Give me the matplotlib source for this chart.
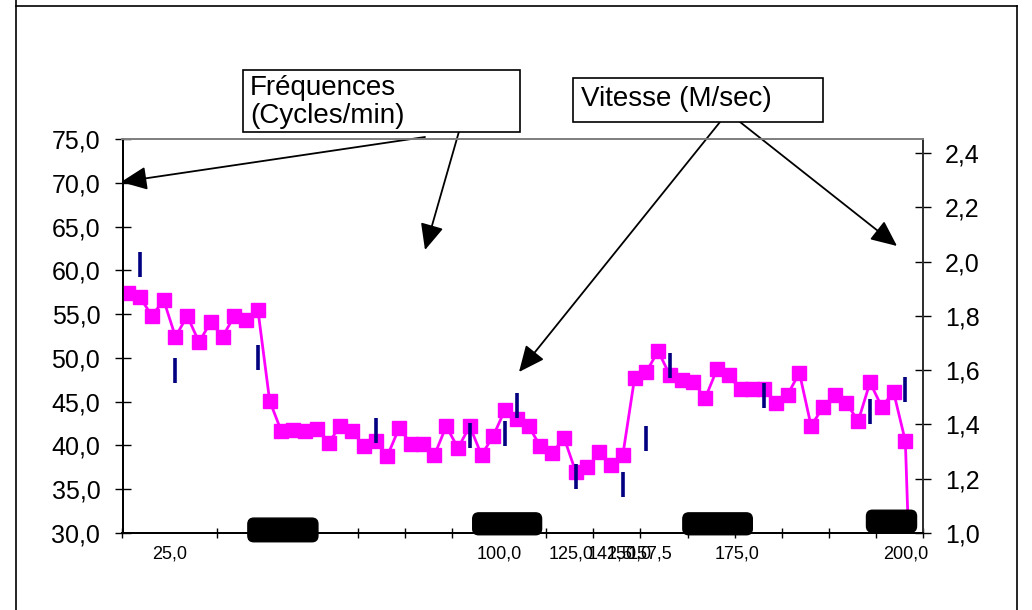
import matplotlib.pyplot as plt
import numpy as np
from matplotlib.patches import FancyBboxPatch, Rectangle
from matplotlib.lines import Line2D
from matplotlib.transforms import IdentityTransform

plt.rcParams['font.family'] = ['Liberation Sans', 'DejaVu Sans']

# ------------------------------------------------ Données ---------------------------------------------------------- #
# fréquences (cycles/min), une valeur par catégorie
frequences = [57.4, 56.9, 54.8, 56.6, 52.4, 54.8, 51.8, 54.1, 52.4, 54.8,
              54.3, 55.5, 45.1, 41.6, 41.8, 41.6, 41.9, 40.3, 42.2, 41.7,
              39.9, 40.5, 38.8, 42.0, 40.2, 40.2, 38.9, 42.2, 39.7, 42.2,
              38.9, 41.1, 44.1, 43.0, 42.2, 39.9, 39.1, 40.9, 37.0, 37.5,
              39.2, 37.8, 38.9, 47.7, 48.4, 50.8, 48.0, 47.5, 47.2, 45.4,
              48.7, 48.0, 46.4, 46.4, 46.4, 44.8, 45.8, 48.3, 42.2, 44.4,
              45.8, 44.8, 42.8, 47.2, 44.4, 46.1, 40.5, 0.0]
# vitesse (M/sec), mesurée seulement sur quelques catégories
vitesse_idx = [1, 4, 11, 21, 29, 32, 33, 38, 42, 44, 46, 54, 63, 66]
vitesse = [1.99, 1.60, 1.65, 1.38, 1.36, 1.37, 1.47, 1.21, 1.18, 1.35, 1.62, 1.51, 1.45, 1.53]

x_labels = ['25,0', '100,0', '125,0', '142,5', '150,0', '157,5', '175,0', '200,0']
x_label_pos = [3.5, 31.5, 37.6, 40.9, 42.5, 44.3, 51.7, 66.0]

# pavés noirs au bas du graphique (x en catégories, y en cycles/min)
paves = [(10.15, 16.1, 29.0, 31.7),
         (29.25, 35.1, 29.8, 32.3),
         (47.1, 53.0, 29.8, 32.3),
         (62.7, 66.95, 30.1, 32.6)]

W, H = 1032, 610


def fp(x, y):
    # pixels (origine en haut à gauche) -> fraction de la figure
    return x / W, 1 - y / H


def virgule(v):
    return f"{v:.1f}".replace('.', ',')


# ------------------------------------------------ Graphique -------------------------------------------------------- #
fig = plt.figure(figsize=(W / 100, H / 100), dpi=100)
ax = fig.add_axes([122.5 / W, 1 - 533 / H, 800.5 / W, 394 / H])
ax2 = ax.twinx()

n = len(frequences)
ax.plot(range(n), frequences, color='#FF00FF', lw=2, marker='s', ms=10.5, zorder=3)
ax2.plot(vitesse_idx, vitesse, ls='none', marker='|', ms=18, mew=2.6, color='#000080')

ax.set_xlim(-0.5, n - 0.5)
ax.set_ylim(30, 75)
ax2.set_ylim(1.0, 2.452)

yt = np.arange(30, 76, 5)
ax.set_yticks(yt)
ax.set_yticklabels([virgule(v) for v in yt])
yt2 = np.arange(1.0, 2.41, 0.2)
ax2.set_yticks(yt2)
ax2.set_yticklabels([virgule(v) for v in yt2])

ax.set_xticks(x_label_pos)
ax.set_xticklabels(x_labels)
ax.set_xticks(np.arange(-0.5, n, 4), minor=True)
ax.tick_params(axis='x', which='major', length=0, pad=9, labelsize=13)
ax.tick_params(axis='x', which='minor', direction='inout', length=7, width=1)
ax.tick_params(axis='y', direction='inout', length=12, width=1, labelsize=18, pad=10)
ax2.tick_params(axis='y', direction='inout', length=12, width=1, labelsize=18, pad=10)

for a in (ax, ax2):
    a.spines['left'].set_color('black')
    a.spines['bottom'].set_color('black')
    a.spines['top'].set_color('#808080')
    a.spines['right'].set_color('#303030')
    for s in a.spines.values():
        s.set_linewidth(1.3)

# pavés noirs arrondis
for x0, x1, y0, y1 in paves:
    (px0, py0), (px1, py1) = ax.transData.transform([(x0, y0), (x1, y1)])
    fig.patches.append(FancyBboxPatch((px0, py0), px1 - px0, py1 - py0,
                                      boxstyle='round,pad=0,rounding_size=6',
                                      transform=IdentityTransform(), fc='black', ec='black',
                                      zorder=10, figure=fig))

# cadre extérieur
for xs, ys in [((16, 1017), (6, 6)), ((1017, 1017), (6, 610)), ((16, 16), (0, 610))]:
    p0 = fp(xs[0], ys[0])
    p1 = fp(xs[1], ys[1])
    fig.add_artist(Line2D([p0[0], p1[0]], [p0[1], p1[1]], transform=fig.transFigure, color='black', lw=1.2))

# étiquettes encadrées
for (x0, y0, x1, y1) in [(243, 70, 520, 132), (573, 78, 823, 122)]:
    fig.add_artist(Rectangle(fp(x0, y1), (x1 - x0) / W, (y1 - y0) / H, transform=fig.transFigure,
                             fc='white', ec='black', lw=1.2))
fig.text(*fp(250, 75), "Fréquences\n(Cycles/min)", fontsize=20, va='top', ha='left', linespacing=1.12)
fig.text(*fp(581, 99), "Vitesse (M/sec)", fontsize=20, va='center', ha='left')

# flèches
fleches = [((425, 137), (121, 182)), ((460, 128), (425, 250)),
           ((720, 122), (519, 372)), ((740, 122), (897, 246))]
for debut, fin in fleches:
    ax.annotate("", xy=fp(*fin), xytext=fp(*debut), xycoords='figure fraction',
                textcoords='figure fraction',
                arrowprops=dict(arrowstyle='-|>,head_length=0.8,head_width=0.36', mutation_scale=20,
                                color='black', lw=1.3, shrinkA=0, shrinkB=0), zorder=11)

plt.savefig('out.png', dpi=100)
